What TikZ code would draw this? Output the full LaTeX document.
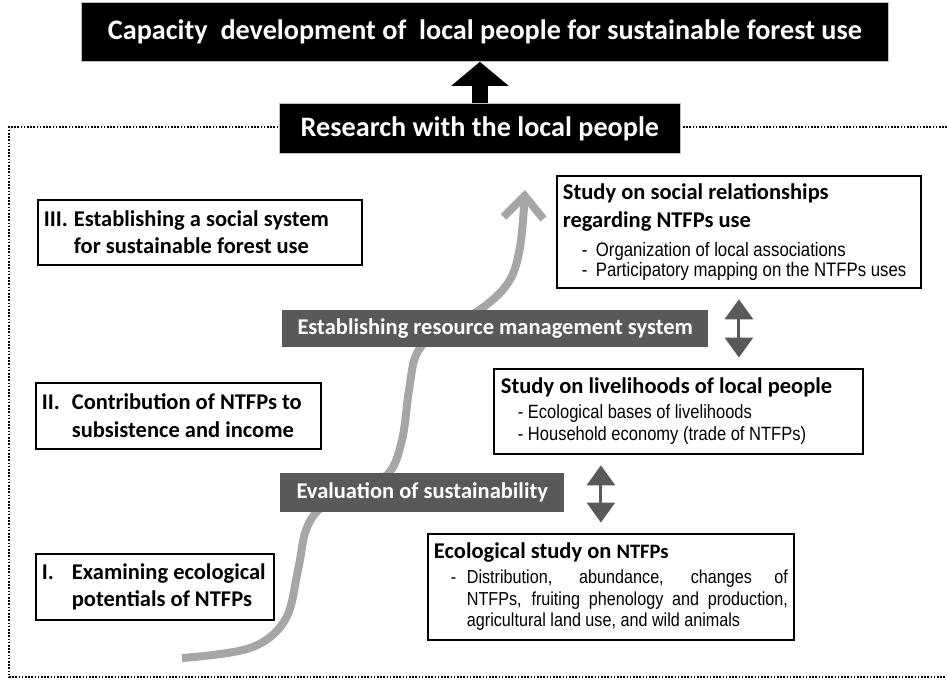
\documentclass[tikz,border=0pt]{standalone}
\usepackage{fontspec}
\setmainfont{Carlito}
\newfontfamily\arialfont[FakeStretch=0.86]{Liberation Sans}
\usetikzlibrary{arrows.meta}

\definecolor{bardark}{HTML}{595959}
\definecolor{trailgrey}{HTML}{A6A6A6}

\tikzset{
  blackbox/.style={fill=black,draw=black!25,line width=0.8pt,text=white,anchor=north west,
    font=\fontsize{28.2}{34}\selectfont\bfseries,inner sep=0pt},
  greybar/.style={fill=bardark,text=white,anchor=north west,
    font=\fontsize{22.5}{27}\selectfont\bfseries,inner sep=0pt},
  stagebox/.style={draw,line width=1.8pt,anchor=north west,align=flush left,
    inner xsep=6pt,inner ysep=0pt,font=\fontsize{22.5}{27.5}\selectfont\bfseries},
  studybox/.style={stagebox},
  trail/.style={trailgrey,line width=8pt,-{Straight Barb[length=22pt,width=40pt]}},
  twoway/.style={bardark,line width=3pt,
    {Triangle[length=20pt,width=28pt]}-{Triangle[length=20pt,width=28pt]},
    shorten <=10.5pt,shorten >=10.5pt},
  upbig/.style={line width=16pt,-{Triangle[length=24pt,width=56pt]}},
  dotframe/.style={line width=2pt,dash pattern=on 1.6pt off 1.6pt}
}

\begin{document}
\begin{tikzpicture}[x=1pt,y=-1pt]
\useasboundingbox (0,0) rectangle (947,681);
% dotted frame round the research part
\draw[dotframe] (947,127) -| (9,677) -- (947,677);

\node[blackbox,minimum width=807pt,minimum height=59pt] (goal) at (81,2)
  {Capacity~ development of~ local people for sustainable forest use};
\node[blackbox,minimum width=401pt,minimum height=50pt] (research) at (279,103)
  {Research with the local people};
\draw[upbig] (research.north) -- (research.north |- goal.south);

% the three stages
\node[stagebox,minimum height=65pt,text width=312pt] (stage3) at (37,199)
  {\makebox[30pt][l]{III.}Establishing a social system\\\hspace*{30pt}for sustainable forest use};
\node[stagebox,minimum height=66pt,text width=273pt] (stage2) at (35,382)
  {\makebox[30pt][l]{II.}Contribution of NTFPs to\\\hspace*{30pt}subsistence and income};
\node[stagebox,minimum height=66pt,text width=226pt] (stage1) at (35,553)
  {\makebox[30pt][l]{I.}Examining ecological\\\hspace*{30pt}potentials of NTFPs};

% rising path, under the grey bars
\draw[trail] plot[smooth,tension=0.6] coordinates {(182,658) (250,648) (285,620) (298,570)
  (306,530) (322,507) (355,490) (388,474) (402,440) (409,390) (417,353) (440,330)
  (478,311) (508,283) (520,247) (525,190)};

\node[greybar,minimum width=426pt,minimum height=37pt] (manage) at (282,310)
  {Establishing resource management system};
\node[greybar,minimum width=284pt,minimum height=39pt] (evaluate) at (280,473)
  {Evaluation of sustainability};

% the studies
\node[studybox,minimum height=112pt,text width=352pt] (social) at (556,175)
  {Study on social relationships\par regarding NTFPs use\par
   {\arialfont\mdseries\fontsize{19.5}{20}\selectfont\vspace*{9pt}%
    \hspace*{19pt}\makebox[14pt][l]{-}Organization of local associations\par
    \hspace*{19pt}\makebox[14pt][l]{-}Participatory mapping on the NTFPs uses\par}};
\node[studybox,minimum height=85pt,text width=355pt,inner xsep=7pt] (living) at (493,368)
  {Study on livelihoods of local people\par
   {\arialfont\mdseries\fontsize{19.2}{22}\selectfont\vspace*{3pt}%
    \hspace*{17pt}- Ecological bases of livelihoods\par
    \hspace*{17pt}- Household economy (trade of NTFPs)\par}};
\node[studybox,minimum height=106pt,text width=354pt] (ecology) at (427,533)
  {Ecological study on {\fontsize{20.5}{24}\selectfont NTFPs}\par
   {\arialfont\mdseries\fontsize{18.8}{21.5}\selectfont\vspace*{3.5pt}%
    \hspace*{17pt}\makebox[16pt][l]{-}\parbox[t]{321pt}{Distribution, abundance, changes of\linebreak
    NTFPs, fruiting phenology and production,\linebreak
    agricultural land use, and wild animals}\par}};

\draw[twoway] (social.south) -- (social.south |- living.north);
\draw[twoway] ([xshift=-10pt]ecology.north) -- ([xshift=-10pt]ecology.north |- living.south);
\end{tikzpicture}
\end{document}
